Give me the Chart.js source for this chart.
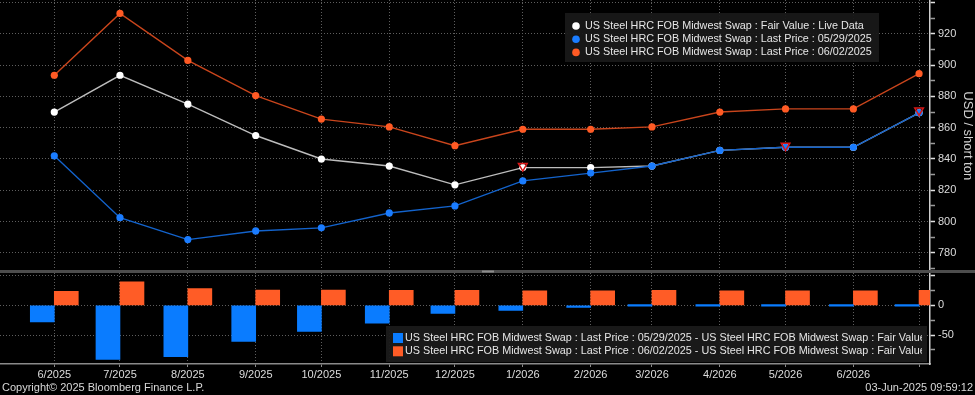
<!DOCTYPE html>
<html>
<head>
<meta charset="utf-8">
<script src="https://cdn.jsdelivr.net/npm/chart.js@4/dist/chart.umd.min.js"></script>
<style>
  html, body { margin: 0; padding: 0; background: #000; }
  #wrap { width: 975px; height: 395px; }
</style>
</head>
<body>
<div id="wrap"><canvas id="myChart" width="975" height="395"></canvas></div>
<script>
// Contract months (first of each month)
const months = ['6/2025', '7/2025', '8/2025', '9/2025', '10/2025', '11/2025', '12/2025',
                '1/2026', '2/2026', '3/2026', '4/2026', '5/2026', '6/2026', '7/2026'];

// USD / short ton
const fairValue = [870, 893.5, 875, 855, 840, 835.5, 823.5, 834.5, 834.5, 835.5, 845.5, 847.5, 847.5, 869.5];
const last0529 = [842, 802.5, 788.5, 794, 796, 805.5, 810, 826, 831, 835.5, 845.5, 847.5, 847.5, 869.5];
const last0602 = [893.5, 933, 903, 880.5, 865.5, 860.5, 848.5, 859, 859, 860.5, 870, 872, 872, 894.5];

// Last price minus fair value (lower panel)
const spread0529 = [-28, -91, -86.5, -61, -44, -30, -13.5, -8.5, -3.5, 0, 0, 0, 0, 0];
const spread0602 = [23.5, 39.5, 28, 25.5, 25.5, 25, 25, 24.5, 24.5, 25, 24.5, 24.5, 24.5, 25];

// red event markers
const markerMonths = ['1/2026', '5/2026', '7/2026'];
const markerValues = [835.5, 848.5, 871];

// axis ticks: major ones get a label and a grid line, the rest are minor marks
const priceTicks = [770, 780, 790, 800, 810, 820, 830, 840, 850, 860, 870, 880, 890, 900, 910, 920, 930, 940];
const priceMajor = [780, 800, 820, 840, 860, 880, 900, 920, 940];
const spreadTicks = [-75, -50, -25, 0, 25, 50];
const spreadMajor = [-50, 0, 50];

const legendTop = [
  {text: 'US Steel HRC FOB Midwest Swap : Fair Value : Live Data', color: '#ffffff'},
  {text: 'US Steel HRC FOB Midwest Swap : Last Price : 05/29/2025', color: '#1a7cff'},
  {text: 'US Steel HRC FOB Midwest Swap : Last Price : 06/02/2025', color: '#ff5a24'},
];
const legendBottom = [
  {text: 'US Steel HRC FOB Midwest Swap : Last Price : 05/29/2025 - US Steel HRC FOB Midwest Swap : Fair Value : Live Data', color: '#0a7cff'},
  {text: 'US Steel HRC FOB Midwest Swap : Last Price : 06/02/2025 - US Steel HRC FOB Midwest Swap : Fair Value : Live Data', color: '#ff5c26'},
];

// days since 1 Jun 2025, so months sit like on a time axis
function dayOf(m){
  const parts = m.split('/').map(Number);
  return (Date.UTC(parts[1], parts[0] - 1, 1) - Date.UTC(2025, 5, 1)) / 864e5;
}
function series(values, labels){
  return (labels || months).map((m, i) => ({x: dayOf(m), y: values[i]}));
}

Chart.defaults.font.family = "'Liberation Sans', Arial, sans-serif";
Chart.defaults.font.size = 11;
Chart.defaults.color = '#d9d9d9';

const gridColor = '#5e5e5e';

const panelExtras = {
  id: 'panelExtras',
  afterDraw(chart){
    const ctx = chart.ctx;
    const sep = chart.scales.y.bottom;
    ctx.save();
    // panel separator
    ctx.fillStyle = '#4d4d4d';
    ctx.fillRect(0, sep - 1.5, 975, 3);
    ctx.fillStyle = '#8c8c8c';
    ctx.fillRect(482, sep - 1, 12, 2);

    ctx.font = "10.8px 'Liberation Sans', Arial, sans-serif";
    ctx.textBaseline = 'middle';

    // upper legend
    ctx.fillStyle = 'rgba(24,24,24,0.95)';
    ctx.fillRect(565, 13, 314, 49);
    legendTop.forEach((item, i) => {
      const y = 26 + i * 13.2;
      ctx.fillStyle = item.color;
      ctx.beginPath();
      ctx.arc(576, y, 3.8, 0, Math.PI * 2);
      ctx.fill();
      ctx.fillStyle = '#e6e6e6';
      ctx.fillText(item.text, 585, y);
    });

    // lower legend, text cut at the box edge
    ctx.fillStyle = 'rgba(26,26,26,0.95)';
    ctx.fillRect(386, 326, 541, 36);
    ctx.save();
    ctx.beginPath();
    ctx.rect(386, 326, 536, 36);
    ctx.clip();
    legendBottom.forEach((item, i) => {
      const y = 338 + i * 13.3;
      ctx.fillStyle = item.color;
      ctx.fillRect(393, y - 5, 10, 10);
      ctx.fillStyle = '#e6e6e6';
      ctx.fillText(item.text, 405, y);
    });
    ctx.restore();

    // footer
    ctx.font = "11px 'Liberation Sans', Arial, sans-serif";
    ctx.fillStyle = '#d9d9d9';
    ctx.textAlign = 'left';
    ctx.fillText('Copyright\u00a9 2025 Bloomberg Finance L.P.', 2, 388);
    ctx.textAlign = 'right';
    ctx.fillText('03-Jun-2025 09:59:12', 973, 388);
    ctx.restore();
  }
};

const data = {
  datasets: [
    {
      label: 'markers',
      data: series(markerValues, markerMonths),
      yAxisID: 'y',
      showLine: false,
      pointStyle: 'triangle',
      rotation: 180,
      pointRadius: 5,
      borderColor: '#d81818',
      backgroundColor: 'rgba(0,0,0,0)',
      borderWidth: 1.5,
    },
    {
      label: legendTop[2].text,
      data: series(last0602),
      yAxisID: 'y',
      borderColor: '#c9451c',
      backgroundColor: '#ff5a24',
      borderWidth: 1.4,
      pointRadius: 3.6,
      pointBorderWidth: 0,
    },
    {
      label: legendTop[1].text,
      data: series(last0529),
      yAxisID: 'y',
      borderColor: '#1363cc',
      backgroundColor: '#1a7cff',
      borderWidth: 1.4,
      pointRadius: 3.6,
      pointBorderWidth: 0,
    },
    {
      label: legendTop[0].text,
      data: series(fairValue),
      yAxisID: 'y',
      borderColor: '#bdbdbd',
      backgroundColor: '#ffffff',
      borderWidth: 1.4,
      pointRadius: 3.6,
      pointBorderWidth: 0,
    },
    {
      type: 'bar',
      label: legendBottom[0].text,
      data: series(spread0529),
      yAxisID: 'y2',
      backgroundColor: '#0a7cff',
      barThickness: 24,
      minBarLength: 1.5,
    },
    {
      type: 'bar',
      label: legendBottom[1].text,
      data: series(spread0602),
      yAxisID: 'y2',
      backgroundColor: '#ff5c26',
      barThickness: 24,
    },
  ]
};

const config = {
  type: 'line',
  data: data,
  plugins: [panelExtras],
  options: {
    responsive: false,
    animation: false,
    layout: { autoPadding: false, padding: { top: 0, left: 0, right: 0, bottom: 14 } },
    plugins: {
      legend: { display: false },
      tooltip: { enabled: false },
    },
    scales: {
      x: {
        type: 'linear',
        position: 'bottom',
        min: -24.8,
        max: 400,
        offset: false,
        afterBuildTicks: s => { s.ticks = months.map(m => ({value: dayOf(m)})); },
        afterFit: s => { s.height = 17; s.paddingLeft = 0; s.paddingRight = 0; },
        ticks: {
          autoSkip: false,
          maxRotation: 0,
          padding: 1,
          color: '#dcdcdc',
          callback: (v, i) => i < months.length - 1 ? months[i] : '',
        },
        grid: { color: gridColor, offset: false, tickLength: 3, tickColor: '#8a8a8a' },
        border: { color: '#8a8a8a', width: 1.5, dash: [1, 2] },
      },
      y: {
        type: 'linear',
        position: 'right',
        stack: 'panels',
        stackWeight: 271.5,
        min: 768.1,
        max: 941.6,
        afterBuildTicks: s => { s.ticks = priceTicks.map(v => ({value: v})); },
        afterFit: s => { s.width = 45; s.paddingTop = 0; s.paddingBottom = 0; },
        ticks: {
          autoSkip: false,
          padding: 3,
          color: '#dcdcdc',
          callback: v => (priceMajor.includes(v) && v !== 940) ? v : '',
        },
        grid: {
          color: c => priceMajor.includes(c.tick.value) ? gridColor : 'rgba(0,0,0,0)',
          tickLength: 5,
          tickColor: c => priceMajor.includes(c.tick.value) ? '#e0e0e0' : '#9a9a9a',
          tickWidth: 1.5,
        },
        border: { color: '#cfcfcf', width: 1.5, dash: [1, 2] },
        title: {
          display: true,
          text: 'USD / short ton',
          color: '#d0d0d0',
          font: { size: 13 },
          padding: 0,
        },
      },
      y2: {
        type: 'linear',
        position: 'right',
        stack: 'panels',
        stackWeight: 92.5,
        min: -98.8,
        max: 56.9,
        afterBuildTicks: s => { s.ticks = spreadTicks.map(v => ({value: v})); },
        afterFit: s => { s.width = 45; s.paddingTop = 0; s.paddingBottom = 0; },
        ticks: {
          autoSkip: false,
          padding: 3,
          color: '#dcdcdc',
          callback: v => (v === 0 || v === -50) ? v : '',
        },
        grid: {
          color: c => spreadMajor.includes(c.tick.value) ? gridColor : 'rgba(0,0,0,0)',
          tickLength: 5,
          tickColor: c => spreadMajor.includes(c.tick.value) ? '#e0e0e0' : '#9a9a9a',
          tickWidth: 1.5,
        },
        border: { color: '#cfcfcf', width: 1.5, dash: [1, 2] },
      },
    }
  },
};

const myChart = new Chart(
  document.getElementById('myChart'),
  config
);
</script>
</body>
</html>
